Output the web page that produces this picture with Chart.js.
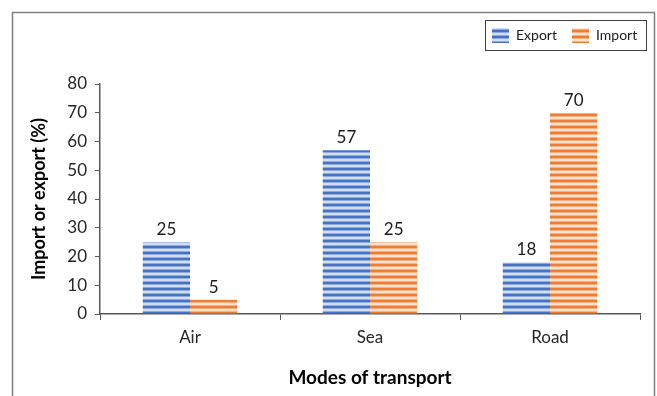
<!DOCTYPE html>
<html>
<head>
<meta charset="utf-8">
<script src="https://cdn.jsdelivr.net/npm/chart.js@4/dist/chart.umd.min.js"></script>
<style>
  html, body { margin: 0; padding: 0; background: #fff; }
  #wrap { width: 657px; height: 396px; }
</style>
</head>
<body>
<div id="wrap"><canvas id="c" width="657" height="396"></canvas></div>
<script>
// Share of trade by mode of transport
const categories = ['Air', 'Sea', 'Road'];
const exportValues = [25, 57, 18];
const importValues = [5, 25, 70];
const seriesNames = ['Export', 'Import'];
const yTitle = 'Import or export (%)';
const xTitle = 'Modes of transport';

const FONT = 'Lato, "Noto Sans", sans-serif';

// Horizontal stripe fill used for the bars and legend swatches
function stripes(dark, mid, light) {
  const p = document.createElement('canvas');
  p.width = 6; p.height = 6;
  const g = p.getContext('2d');
  const rows = [dark, dark, mid, light, light, mid];
  rows.forEach((col, i) => { g.fillStyle = col; g.fillRect(0, i, 6, 1); });
  return document.getElementById('c').getContext('2d').createPattern(p, 'repeat');
}
const bluePat = stripes('#4472C4', '#8FAADC', '#D3DEF1');
const orangePat = stripes('#ED7D31', '#F4B183', '#FBE2D2');

// Value labels above each bar
const valueLabels = {
  id: 'valueLabels',
  afterDatasetsDraw(chart) {
    const ctx = chart.ctx;
    ctx.save();
    ctx.font = '17px ' + FONT;
    ctx.fillStyle = '#1a1a1a';
    ctx.textAlign = 'center';
    ctx.textBaseline = 'bottom';
    chart.data.datasets.forEach((ds, di) => {
      chart.getDatasetMeta(di).data.forEach((bar, i) => {
        ctx.fillText(String(ds.data[i]), bar.x, bar.y - 4);
      });
    });
    ctx.restore();
  }
};

// Outer frame and boxed legend
const frameLegend = {
  id: 'frameLegend',
  afterDraw(chart) {
    const ctx = chart.ctx;
    ctx.save();
    ctx.strokeStyle = '#7F7F7F';
    ctx.lineWidth = 1.5;
    ctx.strokeRect(12.5, 12.5, 642, 420);

    ctx.strokeStyle = '#404040';
    ctx.lineWidth = 1;
    ctx.strokeRect(485.5, 20.5, 161, 30);

    const sw = [[492, 516], [572, 596]];
    ctx.font = '14px ' + FONT;
    ctx.textBaseline = 'middle';
    ctx.textAlign = 'left';
    chart.data.datasets.forEach((ds, i) => {
      ctx.fillStyle = ds.backgroundColor;
      ctx.fillRect(sw[i][0], 28, 17, 15);
      ctx.fillStyle = '#1a1a1a';
      ctx.fillText(ds.label, sw[i][1], 35.5);
    });
    ctx.restore();
  }
};

new Chart(document.getElementById('c'), {
  type: 'bar',
  data: {
    labels: categories,
    datasets: [
      { label: seriesNames[0], data: exportValues, backgroundColor: bluePat },
      { label: seriesNames[1], data: importValues, backgroundColor: orangePat }
    ]
  },
  options: {
    responsive: false,
    animation: false,
    layout: { padding: { left: 13, top: 84, right: 17, bottom: 0 } },
    datasets: { bar: { categoryPercentage: 0.525, barPercentage: 1, borderWidth: 0 } },
    plugins: { legend: { display: false }, tooltip: { enabled: false } },
    scales: {
      x: {
        afterFit(s) { s.height = 82; },
        grid: { drawOnChartArea: false, tickLength: 6, color: '#595959', offset: true },
        border: { color: '#595959', width: 1.5 },
        ticks: { color: '#262626', font: { family: FONT, size: 17 }, padding: 7 },
        title: { display: true, text: xTitle, color: '#000', font: { family: FONT, size: 19, weight: 'bold' }, padding: { top: 4, bottom: 7 } }
      },
      y: {
        min: 0, max: 80,
        afterFit(s) { s.width = 87; },
        grid: { drawOnChartArea: false, tickLength: 5, color: '#595959' },
        border: { color: '#595959', width: 1.5 },
        ticks: { stepSize: 10, color: '#262626', font: { family: FONT, size: 17 }, padding: 8 },
        title: { display: true, text: yTitle, color: '#000', font: { family: FONT, size: 18, weight: 'bold' }, padding: { top: 15, bottom: 4 } }
      }
    }
  },
  plugins: [valueLabels, frameLegend]
});
</script>
</body>
</html>
